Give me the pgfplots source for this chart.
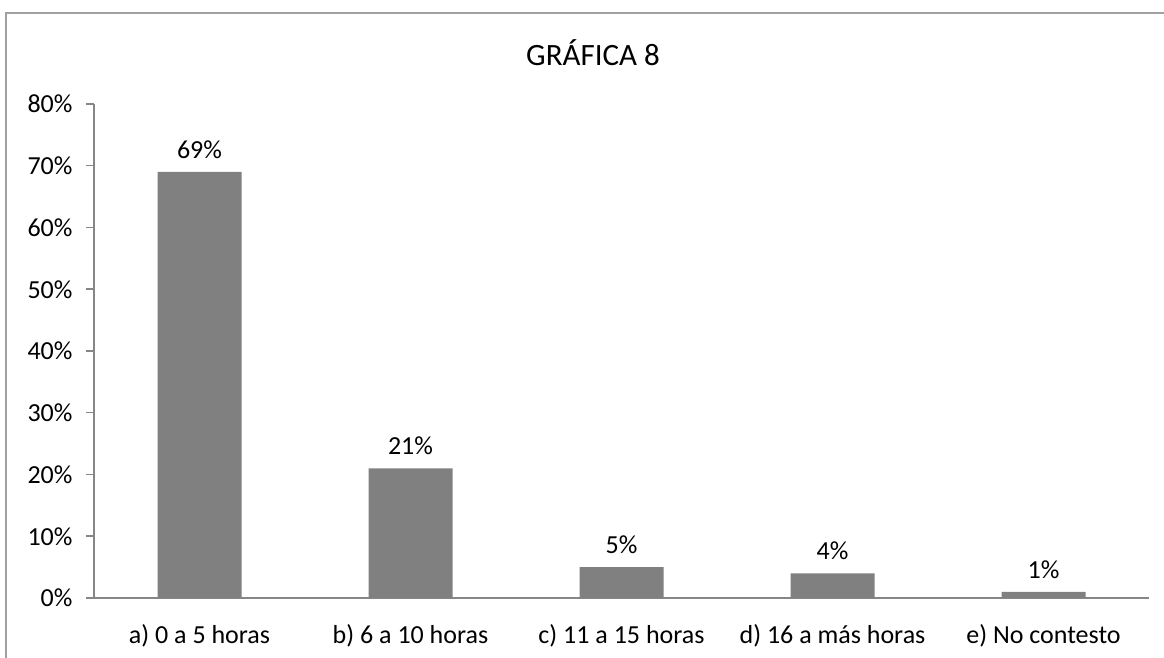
\documentclass[border=0pt]{standalone}
\usepackage{pgfplots}
\pgfplotsset{compat=1.18}
\usepackage{fontspec}
\setmainfont{Carlito}
\definecolor{barg}{HTML}{808080}
\definecolor{axg}{HTML}{868686}
\definecolor{frameg}{HTML}{A0A0A0}
\begin{document}
\begin{tikzpicture}[x=1pt,y=1pt]
\path[use as bounding box] (0,0) rectangle (1164,658);
% outer chart frame (right and bottom edges fall outside the image)
\draw[frameg, line width=2pt] (6,0) -- (6,645) -- (1164,645);
\node[font=\fontsize{31}{36}\selectfont] at (593,605) {GRÁFICA 8};
\begin{axis}[
  at={(94pt,60pt)}, anchor=origin,
  scale only axis,
  width=1055pt, height=494pt,
  ybar, bar width=84pt,
  xmin=0.5, xmax=5.5, ymin=0, ymax=80,
  axis x line=bottom, axis y line=left,
  axis line style={-, axg, line width=1.5pt},
  xtick={1,2,3,4,5},
  xticklabels={a) 0 a 5 horas, b) 6 a 10 horas, c) 11 a 15 horas, d) 16 a más horas, e) No contesto},
  x tick style={draw=none},
  extra x ticks={0.5,1.5,2.5,3.5,4.5,5.5},
  extra x tick labels={},
  extra x tick style={tick style={axg, line width=1.5pt}, major tick length=8pt, tick align=outside, xticklabel style={opacity=0}},
  ytick={0,10,...,80},
  yticklabel={\pgfmathprintnumber{\tick}\%},
  y tick style={axg, line width=1.5pt},
  tick align=outside, major tick length=8pt,
  /pgf/number format/assume math mode=true,
  tick label style={font=\fontsize{26}{30}\selectfont},
  xticklabel style={yshift=-15pt},
  yticklabel style={xshift=-10pt},
  nodes near coords={\pgfmathprintnumber{\pgfplotspointmeta}\%},
  nodes near coords style={font=\fontsize{26}{30}\selectfont, text=black, yshift=10pt},
  clip=false,
]
\addplot[fill=barg, draw=none] coordinates {(1,69) (2,21) (3,5) (4,4) (5,1)};
\end{axis}
\end{tikzpicture}
\end{document}
